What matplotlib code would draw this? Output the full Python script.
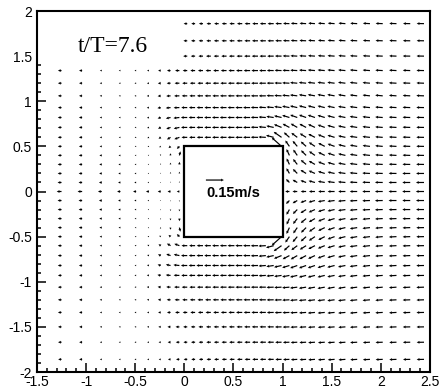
import numpy as np
import matplotlib
matplotlib.use("Agg")
import matplotlib.pyplot as plt
from matplotlib.patches import Rectangle

# grid columns (x) and rows (y >= 0)
x_cols = [-1.25, -1.04, -0.84, -0.65, -0.49, -0.36, -0.24, -0.14, -0.05,
          0.03, 0.11, 0.19, 0.27, 0.35, 0.43, 0.51, 0.59, 0.67, 0.75, 0.83, 0.91, 0.99,
          1.07, 1.15, 1.24, 1.33, 1.43, 1.53, 1.64, 1.76, 1.89, 2.02, 2.16, 2.30, 2.44]
y_rows = [0.0, 0.1, 0.2, 0.3, 0.4, 0.5, 0.6, 0.71, 0.82, 0.93, 1.06, 1.2, 1.34, 1.5, 1.67, 1.86]

# speed in mm/s (0 = inside the body / no vector)
speed = [
    [40, 38, 32, 28, 26, 25, 25, 25, 22, 0, 0, 0, 0, 0, 0, 0, 0, 0, 0, 0, 0, 0, 35, 40, 45, 50, 55, 58, 60, 62, 64, 65, 66, 67, 68],
    [33, 30, 24, 20, 16, 12, 8, 8, 10, 0, 0, 0, 0, 0, 0, 0, 0, 0, 0, 0, 0, 0, 40, 45, 50, 55, 58, 60, 62, 63, 64, 65, 66, 66, 67],
    [32, 29, 22, 18, 14, 10, 8, 12, 15, 0, 0, 0, 0, 0, 0, 0, 0, 0, 0, 0, 0, 0, 50, 52, 55, 57, 59, 60, 62, 63, 64, 65, 65, 66, 66],
    [32, 28, 21, 17, 13, 10, 10, 15, 22, 0, 0, 0, 0, 0, 0, 0, 0, 0, 0, 0, 0, 0, 55, 57, 58, 59, 60, 61, 62, 63, 63, 64, 64, 65, 65],
    [31, 28, 20, 16, 12, 10, 12, 18, 35, 0, 0, 0, 0, 0, 0, 0, 0, 0, 0, 0, 0, 0, 58, 59, 60, 60, 61, 61, 62, 62, 63, 63, 63, 64, 64],
    [31, 27, 18, 15, 12, 12, 15, 22, 30, 0, 0, 0, 0, 0, 0, 0, 0, 0, 0, 0, 0, 110, 60, 60, 60, 61, 61, 62, 62, 62, 62, 63, 63, 63, 64],
    [31, 27, 17, 14, 13, 15, 22, 35, 45, 48, 50, 52, 54, 55, 56, 57, 58, 59, 60, 62, 66, 80, 62, 62, 62, 62, 62, 62, 62, 63, 63, 63, 63, 64, 64],
    [31, 27, 17, 14, 13, 16, 25, 38, 48, 52, 53, 54, 55, 56, 57, 58, 58, 59, 60, 61, 63, 68, 64, 63, 63, 63, 63, 63, 63, 63, 63, 63, 64, 64, 64],
    [31, 27, 17, 14, 13, 17, 27, 40, 50, 53, 54, 55, 56, 56, 57, 58, 58, 59, 60, 61, 62, 64, 63, 63, 63, 63, 63, 63, 63, 63, 63, 63, 64, 64, 64],
    [30, 26, 17, 14, 14, 18, 28, 40, 48, 50, 52, 53, 54, 55, 56, 57, 58, 59, 60, 60, 61, 62, 62, 62, 62, 62, 62, 62, 62, 63, 63, 63, 63, 64, 64],
    [30, 26, 17, 14, 14, 18, 26, 36, 44, 46, 48, 50, 52, 53, 55, 56, 57, 58, 59, 59, 60, 61, 61, 61, 61, 61, 62, 62, 62, 62, 62, 63, 63, 63, 64],
    [30, 26, 17, 14, 14, 17, 24, 32, 40, 42, 44, 46, 48, 50, 52, 54, 55, 56, 57, 58, 59, 60, 60, 60, 61, 61, 61, 61, 62, 62, 62, 62, 63, 63, 63],
    [30, 26, 16, 14, 14, 16, 22, 30, 36, 38, 40, 42, 44, 46, 48, 50, 52, 54, 55, 56, 57, 58, 58, 59, 59, 60, 60, 60, 61, 61, 61, 62, 62, 62, 63],
    [29, 25, 16, 14, 14, 16, 20, 26, 32, 34, 36, 38, 40, 42, 44, 46, 48, 50, 52, 53, 54, 55, 56, 57, 57, 58, 58, 59, 59, 60, 60, 61, 61, 62, 62],
    [29, 25, 16, 14, 14, 15, 18, 24, 30, 32, 34, 36, 38, 40, 42, 44, 46, 48, 50, 51, 52, 53, 54, 55, 56, 57, 57, 58, 58, 59, 59, 60, 60, 61, 61],
    [28, 25, 16, 14, 14, 15, 17, 22, 28, 30, 32, 34, 36, 38, 40, 42, 44, 46, 48, 50, 51, 52, 53, 54, 55, 56, 57, 57, 58, 58, 59, 59, 60, 60, 61],
]

# direction in degrees (180 = pointing left)
angle = [
    [180, 180, 180, 180, 180, 180, 180, 180, 180, 0, 0, 0, 0, 0, 0, 0, 0, 0, 0, 0, 0, 0, 180, 180, 180, 180, 180, 180, 180, 180, 180, 180, 180, 180, 180],
    [180, 180, 180, 180, 180, 175, 150, 100, 90, 0, 0, 0, 0, 0, 0, 0, 0, 0, 0, 0, 0, 0, 135, 150, 160, 165, 170, 173, 175, 177, 178, 179, 180, 180, 180],
    [180, 180, 180, 180, 178, 170, 140, 100, 90, 0, 0, 0, 0, 0, 0, 0, 0, 0, 0, 0, 0, 0, 120, 135, 148, 156, 163, 168, 172, 175, 177, 178, 179, 180, 180],
    [180, 180, 180, 180, 178, 165, 130, 100, 88, 0, 0, 0, 0, 0, 0, 0, 0, 0, 0, 0, 0, 0, 115, 128, 140, 150, 158, 164, 169, 173, 175, 177, 178, 179, 179],
    [180, 180, 180, 180, 175, 160, 125, 100, 75, 0, 0, 0, 0, 0, 0, 0, 0, 0, 0, 0, 0, 0, 115, 125, 135, 145, 154, 161, 167, 171, 174, 176, 177, 178, 179],
    [180, 180, 180, 180, 190, 200, 210, 220, 225, 0, 0, 0, 0, 0, 0, 0, 0, 0, 0, 0, 0, 138, 125, 130, 138, 146, 153, 160, 166, 170, 173, 175, 177, 178, 179],
    [180, 180, 182, 185, 195, 205, 212, 210, 200, 180, 180, 180, 180, 180, 180, 180, 180, 180, 179, 177, 165, 145, 138, 143, 148, 153, 158, 163, 168, 172, 174, 176, 177, 178, 179],
    [180, 180, 181, 183, 190, 198, 205, 200, 192, 180, 180, 180, 180, 180, 180, 180, 180, 180, 178, 175, 168, 158, 152, 150, 152, 155, 160, 164, 168, 171, 174, 176, 177, 178, 179],
    [180, 180, 180, 182, 187, 193, 197, 192, 186, 180, 180, 180, 180, 180, 180, 180, 180, 180, 179, 176, 172, 167, 163, 160, 160, 161, 163, 166, 169, 172, 174, 176, 177, 178, 179],
    [180, 180, 180, 181, 184, 188, 190, 186, 182, 180, 180, 180, 180, 180, 180, 180, 180, 180, 179, 177, 175, 172, 169, 167, 166, 166, 167, 169, 171, 173, 175, 176, 177, 178, 179],
    [180, 180, 180, 181, 183, 185, 186, 183, 181, 180, 180, 180, 180, 180, 180, 180, 180, 180, 180, 180, 178, 177, 175, 173, 171, 170, 170, 170, 171, 173, 174, 175, 176, 177, 178],
    [180, 180, 180, 181, 182, 183, 183, 181, 180, 180, 180, 180, 180, 180, 180, 180, 180, 180, 180, 180, 179, 178, 177, 175, 174, 173, 173, 173, 173, 174, 175, 176, 177, 178, 178],
    [180, 180, 180, 180, 180, 180, 180, 180, 180, 180, 180, 180, 180, 180, 180, 180, 180, 180, 180, 180, 179, 178, 178, 177, 176, 175, 175, 175, 175, 175, 176, 177, 177, 178, 179],
    [180, 180, 180, 180, 180, 180, 180, 180, 180, 180, 180, 180, 180, 180, 180, 180, 180, 180, 180, 180, 180, 179, 178, 177, 177, 176, 176, 176, 176, 177, 177, 178, 178, 179, 179],
    [180, 180, 180, 180, 180, 180, 180, 180, 180, 180, 180, 180, 180, 180, 180, 180, 180, 180, 180, 180, 180, 179, 178, 177, 177, 176, 176, 176, 176, 177, 177, 178, 178, 179, 179],
    [180, 180, 180, 180, 180, 180, 180, 180, 180, 180, 180, 180, 180, 180, 180, 180, 180, 180, 180, 180, 180, 179, 178, 177, 177, 176, 176, 176, 176, 177, 177, 178, 178, 179, 179],
]

ref_speed = 150
ref_label = "0.15m/s"
time_label = "t/T=7.6"

S = np.array(speed, dtype=float)
A = np.radians(np.array(angle, dtype=float))
u_top = S * np.cos(A)
v_top = S * np.sin(A)

# lower half is the mirror image of the upper half
ys = np.concatenate([-np.array(y_rows[:0:-1]), np.array(y_rows)])
U = np.vstack([u_top[:0:-1], u_top])
V = np.vstack([-v_top[:0:-1], v_top])
S_all = np.vstack([S[:0:-1], S])
X, Y = np.meshgrid(x_cols, ys)
keep = S_all > 0

fig = plt.figure(figsize=(4.4, 3.89), dpi=100)
ax = fig.add_axes([0.084, 0.0437, 0.893, 0.928])

ax.add_patch(Rectangle((0, -0.5), 1, 1, facecolor="white", edgecolor="black", lw=1.6, zorder=1.8))

qkw = dict(angles="uv", scale_units="x", scale=820, pivot="tail", units="dots",
           width=1.2, headwidth=2.4, headlength=2.4, headaxislength=2.2, minlength=0)
ax.quiver(X[keep], Y[keep], U[keep], V[keep], color="black", zorder=1.5, **qkw)

# reference arrow
ax.quiver([0.22], [0.127], [ref_speed], [0], color="black", zorder=2.2, **qkw)
ax.text(0.22, -0.02, ref_label, fontsize=10.5, fontweight="bold", family="Liberation Sans",
        ha="left", va="center", zorder=2.2)

# label box hides the vectors under it
ax.add_patch(Rectangle((-1.5, 1.42), 1.47, 0.58, facecolor="white", edgecolor="none", zorder=2.0))
ax.text(-1.083, 1.547, time_label, fontsize=17, family="Liberation Serif", ha="left", va="baseline", zorder=2.2)

ax.set_xlim(-1.5, 2.5)
ax.set_ylim(-2, 2)
ax.set_xticks([-1.5, -1, -0.5, 0, 0.5, 1, 1.5, 2, 2.5])
ax.set_xticklabels(["-1.5", "-1", "-0.5", "0", "0.5", "1", "1.5", "2", "2.5"])
ax.set_yticks([-2, -1.5, -1, -0.5, 0, 0.5, 1, 1.5, 2])
ax.set_yticklabels(["-2", "-1.5", "-1", "-0.5", "0", "0.5", "1", "1.5", "2"])
ax.set_xticks(np.arange(-1.5, 2.51, 0.1), minor=True)
ax.set_yticks(np.arange(-2, 2.01, 0.1), minor=True)
ax.tick_params(which="both", direction="in", top=False, right=False, width=1.1)
ax.tick_params(which="major", length=6.5)
ax.tick_params(which="minor", length=3.2)
ax.tick_params(axis="x", pad=2)
ax.tick_params(axis="y", pad=3.5)
for lab in ax.get_xticklabels() + ax.get_yticklabels():
    lab.set_fontfamily("Liberation Sans")
    lab.set_fontsize(10)
for sp in ax.spines.values():
    sp.set_linewidth(1.5)

fig.savefig("out.png", dpi=100)
